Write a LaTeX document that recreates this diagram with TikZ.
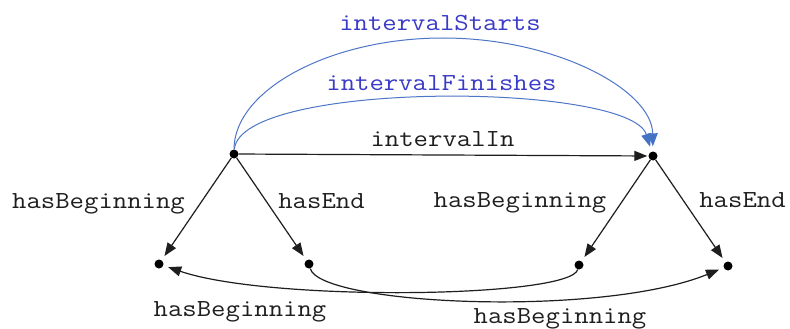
\documentclass[tikz,border=0pt]{standalone}
\usepackage{fontspec}
\setmonofont[FakeStretch=1.14]{Latin Modern Mono}
\usetikzlibrary{arrows.meta}
\definecolor{arcblue}{RGB}{78,118,198}
\definecolor{tipblue}{RGB}{68,114,196}
\definecolor{lblblue}{RGB}{58,58,200}
\definecolor{ink}{RGB}{30,30,30}
\tikzset{
  dot/.style={circle, fill=black, inner sep=0pt, minimum size=9pt},
  blk/.style={draw=ink, line width=1.2pt, -{Triangle[length=13pt,width=10pt]}},
  bluearc/.style={draw=arcblue, line width=1pt, -{Triangle[length=13pt,width=10pt,color=tipblue]}},
  lbl/.style={anchor=base, inner sep=0pt, text=ink, font=\ttfamily\fontsize{24.5}{28}\selectfont},
  bluelbl/.style={lbl, text=lblblue}
}
\begin{document}
\begin{tikzpicture}[x=1pt,y=-1pt]
\useasboundingbox[fill=white] (0,0) rectangle (790,329);

% instants
\node[dot] (A) at (234,154) {};
\node[dot] (B) at (653,156) {};
\node[dot] (C) at (159,264) {};
\node[dot] (D) at (309,264) {};
\node[dot] (E) at (579,265) {};
\node[dot] (F) at (728,266) {};

% interval relations
\draw[bluearc, shorten >=5pt] (A) .. controls (234,90) and (330,38) .. (443,38)
  .. controls (556,38) and (652,90) .. (B);
\draw[bluearc, shorten >=5pt] (A) .. controls (240,80) and (630,82) .. (B);
\draw[blk, shorten >=1pt] (A) -- (B);

% beginnings and ends
\draw[blk, shorten >=5pt] (A) -- (C);
\draw[blk, shorten >=5pt] (A) -- (D);
\draw[blk, shorten >=5pt] (B) -- (E);
\draw[blk, shorten >=5pt] (B) -- (F);

% crossing links between the two intervals
\draw[blk, shorten >=5pt] (D) .. controls (320,305) and (600,318) .. (F);
\draw[blk, shorten >=5pt] (E) .. controls (570,298) and (270,302) .. (C);

% labels
\node[bluelbl] (lStarts) at (440,31) {intervalStarts};
\node[bluelbl] (lFinishes) at (441.5,90.5) {intervalFinishes};
\node[lbl] (lIn) at (442.5,146) {intervalIn};
\node[lbl] (lAbeg) at (98.5,208) {hasBeginning};
\node[lbl] (lAend) at (321.5,208) {hasEnd};
\node[lbl] (lBbeg) at (520,207) {hasBeginning};
\node[lbl] (lBend) at (742.5,207) {hasEnd};
\node[lbl] (lEC) at (240,316.5) {hasBeginning};
\node[lbl] (lDF) at (560,323) {hasBeginning};
\end{tikzpicture}
\end{document}
